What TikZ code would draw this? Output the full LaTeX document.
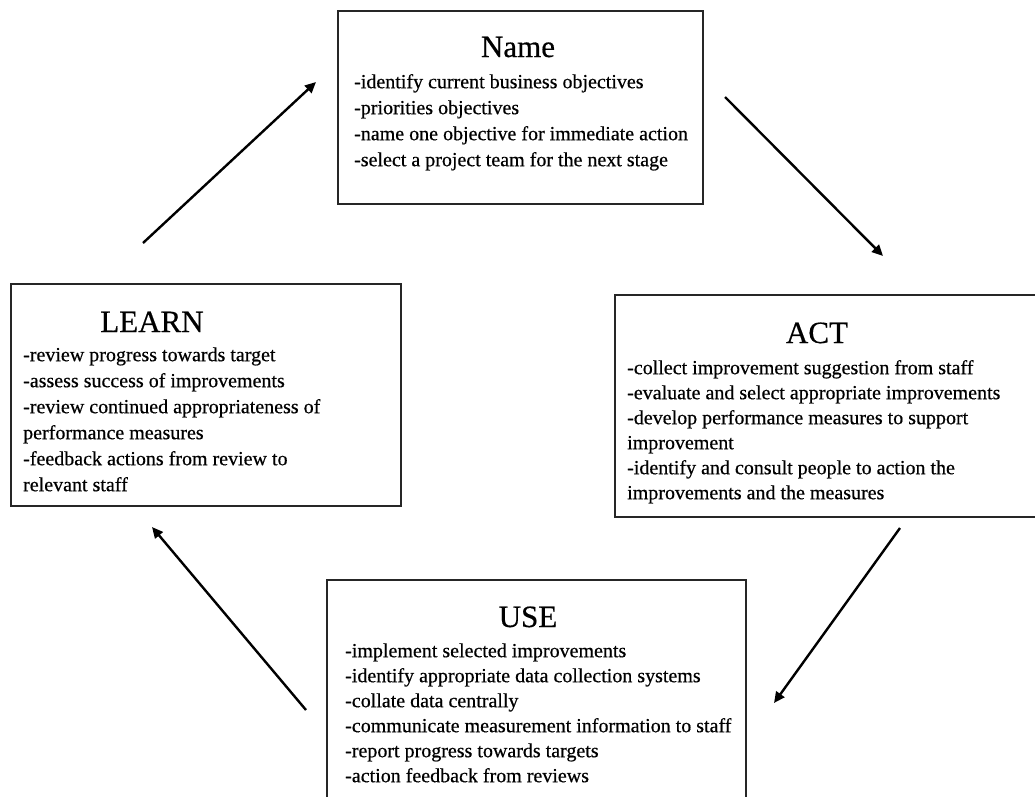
\documentclass[tikz,border=0pt]{standalone}
\usepackage{fontspec}
\setmainfont{Liberation Serif}
\newfontface\heavyface{Liberation Serif}[FakeBold=0.5]
\usetikzlibrary{arrows.meta}
\begin{document}
\begin{tikzpicture}[x=1pt,y=-1pt,
  box/.style={draw=black!85, line width=1.7pt, rectangle, inner sep=0pt, anchor=north west},
  title/.style={font=\heavyface\fontsize{31}{36}\selectfont, inner sep=0pt, anchor=base},
  bodyA/.style={font=\heavyface\fontsize{20}{26}\selectfont, align=left, inner sep=0pt, anchor=north west},
  bodyB/.style={font=\heavyface\fontsize{20}{25}\selectfont, align=left, inner sep=0pt, anchor=north west},
  flow/.style={line width=2.4pt, -{Triangle[length=11pt,width=10pt]}}]
\useasboundingbox (0,0) rectangle (1035,796);
\clip (0,0) rectangle (1035,796);
\fill[white] (0,0) rectangle (1035,796);
% boxes
\node[box, minimum width=365pt, minimum height=193pt] (name) at (337,10) {};
\node[box, minimum width=390pt, minimum height=222pt] (learn) at (10,283) {};
\node[box, minimum width=440pt, minimum height=222pt] (act) at (614,294) {};
\node[box, minimum width=419pt, minimum height=240pt] (use) at (326,579) {};
% titles
\node[title] (nameT) at (518,57) {Name};
\node[title] (learnT) at (152,332) {LEARN};
\node[title] (actT) at (817,343) {ACT};
\node[title] (useT) at (528,627) {USE};
% bodies
\node[bodyA] (nameB) at (354,69.8) {\strut-identify current business objectives\\-priorities objectives\\-name one objective for immediate action\\-select a project team for the next stage};
\node[bodyA] (learnB) at (23,342.8) {\strut-review progress towards target\\-assess success of improvements\\-review continued appropriateness of\\performance measures\\-feedback actions from review to\\relevant staff};
\node[bodyB] (actB) at (627,356.5) {\strut-collect improvement suggestion from staff\\-evaluate and select appropriate improvements\\-develop performance measures to support\\improvement\\-identify and consult people to action the\\improvements and the measures};
\node[bodyB] (useB) at (345,639.5) {\strut-implement selected improvements\\-identify appropriate data collection systems\\-collate data centrally\\-communicate measurement information to staff\\-report progress towards targets\\-action feedback from reviews};
% arrow ends
\coordinate (a1s) at (143,243);
\coordinate (a1e) at (316,82);
\coordinate (a2s) at (725,97);
\coordinate (a2e) at (883,256);
\coordinate (a3s) at (900,528);
\coordinate (a3e) at (774,703);
\coordinate (a4s) at (306,710);
\coordinate (a4e) at (152,527);
\draw[flow] (a1s) -- (a1e);
\draw[flow] (a2s) -- (a2e);
\draw[flow] (a3s) -- (a3e);
\draw[flow] (a4s) -- (a4e);
\end{tikzpicture}
\end{document}
